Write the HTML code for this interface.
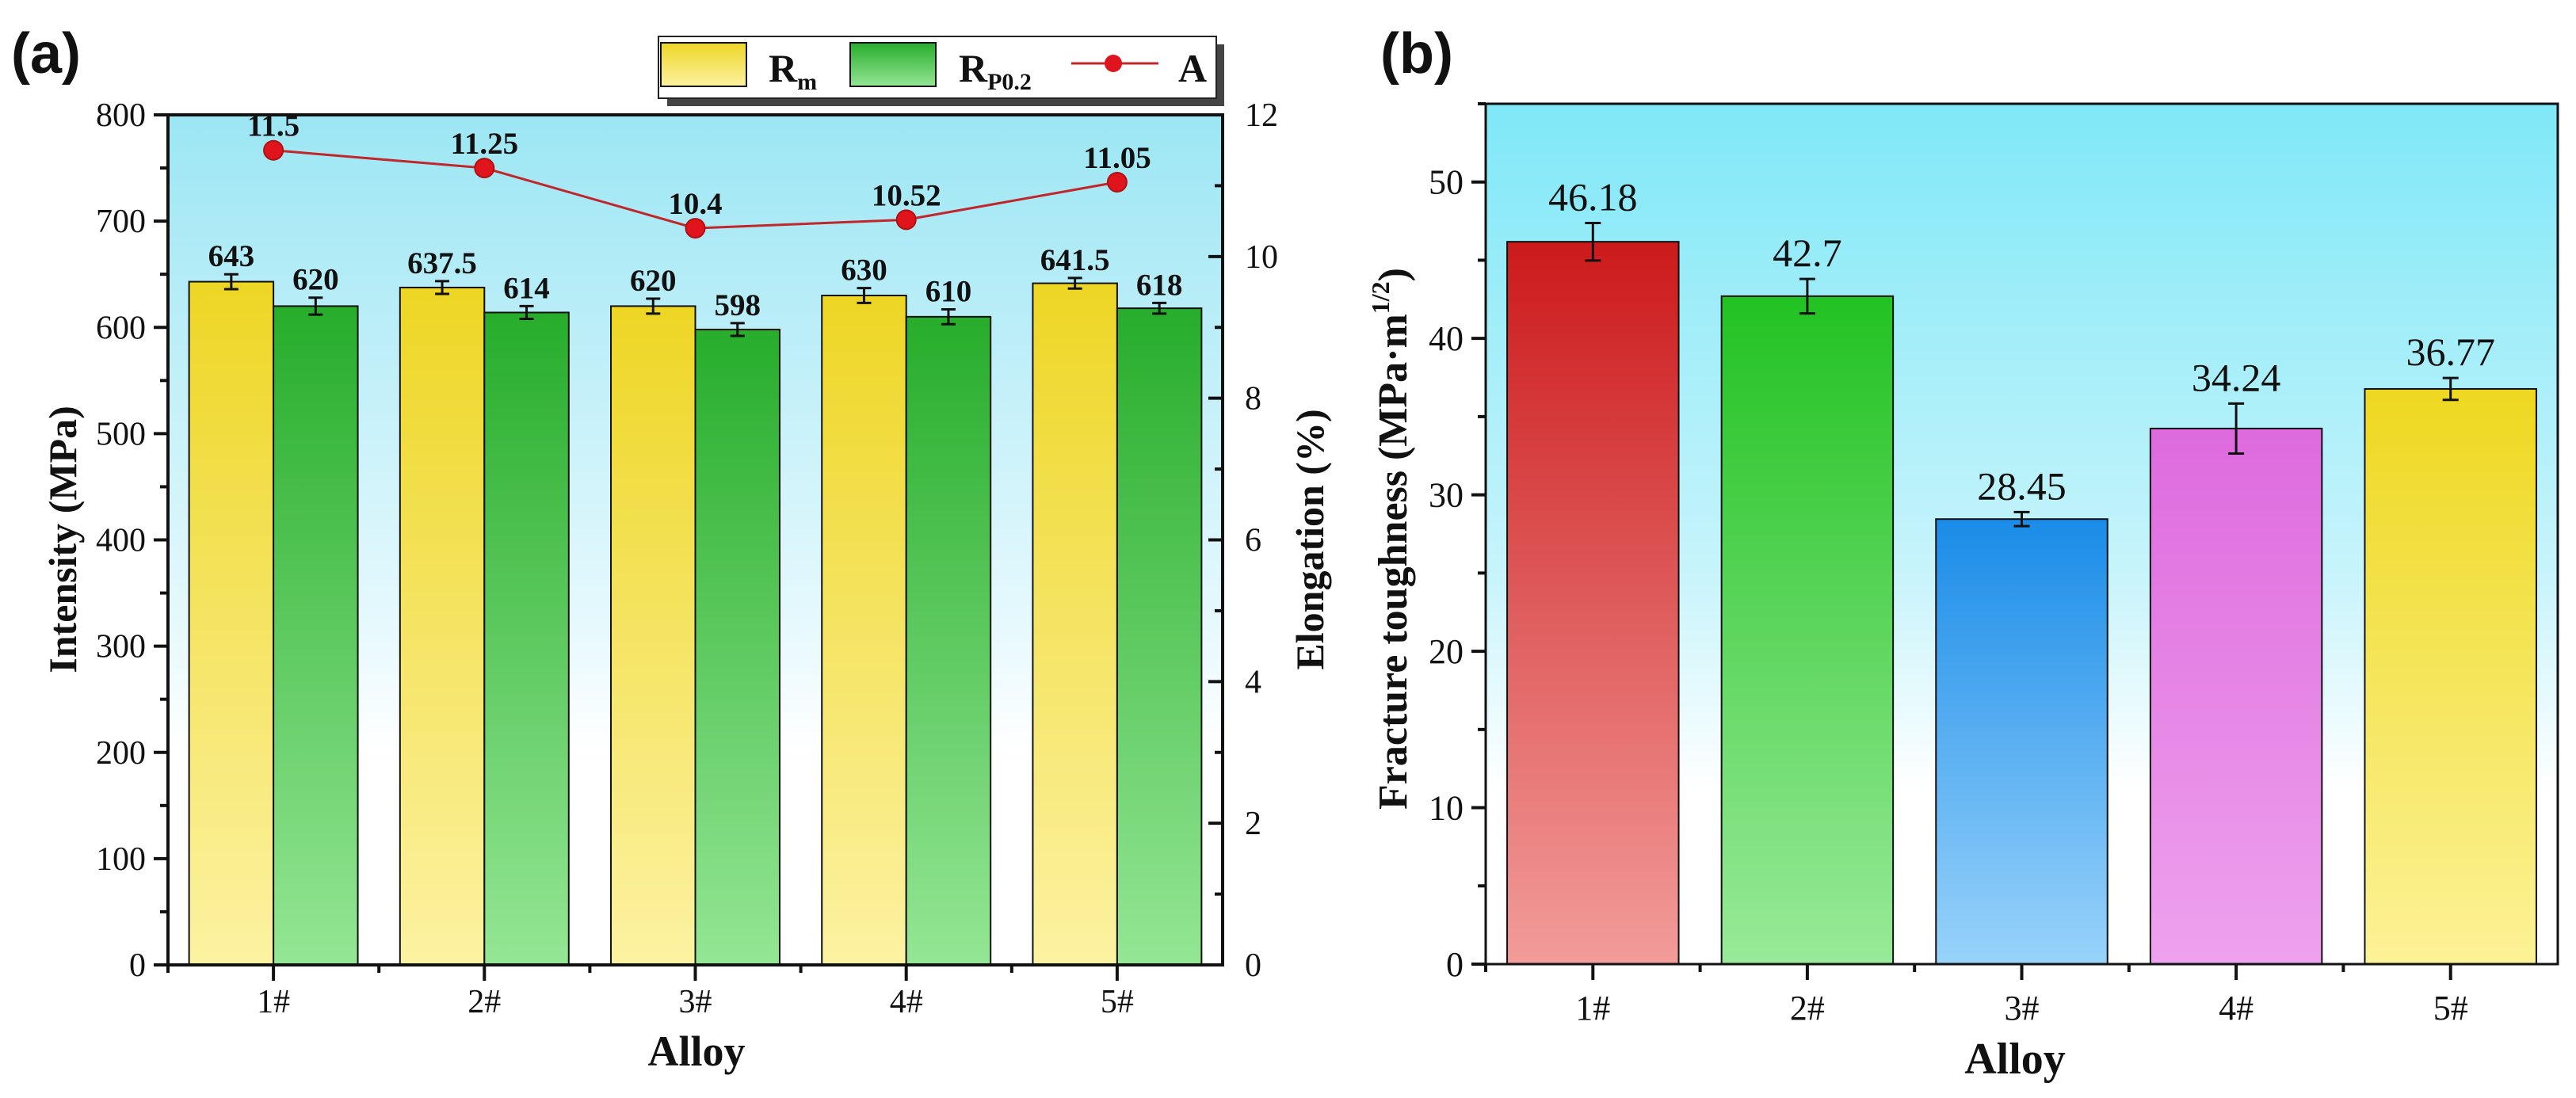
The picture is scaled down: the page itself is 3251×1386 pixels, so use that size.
<!DOCTYPE html>
<html><head><meta charset="utf-8"><style>
html,body{margin:0;padding:0;background:#fff}
svg{display:block}
text{font-family:"Liberation Serif",serif}
</style></head><body>
<svg id="c" width="3251" height="1386" xmlns="http://www.w3.org/2000/svg">
<defs>
<linearGradient id="bgA" x1="0" y1="0" x2="0" y2="1"><stop offset="0" stop-color="#9ce6f4"/><stop offset="0.6" stop-color="#e6f9fd"/><stop offset="0.75" stop-color="#ffffff"/></linearGradient>
<linearGradient id="bgB" x1="0" y1="0" x2="0" y2="1"><stop offset="0" stop-color="#7fe8f7"/><stop offset="0.55" stop-color="#c8f4fb"/><stop offset="0.8" stop-color="#ffffff"/></linearGradient>
<linearGradient id="gY" x1="0" y1="0" x2="0" y2="1"><stop offset="0" stop-color="#eed624"/><stop offset="1" stop-color="#fcf2a2"/></linearGradient>
<linearGradient id="gG" x1="0" y1="0" x2="0" y2="1"><stop offset="0" stop-color="#27ad2b"/><stop offset="1" stop-color="#94e694"/></linearGradient>
<linearGradient id="b0" x1="0" y1="0" x2="0" y2="1"><stop offset="0" stop-color="#cc1a1c"/><stop offset="1" stop-color="#f29c9a"/></linearGradient>
<linearGradient id="b1" x1="0" y1="0" x2="0" y2="1"><stop offset="0" stop-color="#22c222"/><stop offset="1" stop-color="#98ea98"/></linearGradient>
<linearGradient id="b2" x1="0" y1="0" x2="0" y2="1"><stop offset="0" stop-color="#1a8ce8"/><stop offset="1" stop-color="#98d2fa"/></linearGradient>
<linearGradient id="b3" x1="0" y1="0" x2="0" y2="1"><stop offset="0" stop-color="#de6ade"/><stop offset="1" stop-color="#eea2ee"/></linearGradient>
<linearGradient id="b4" x1="0" y1="0" x2="0" y2="1"><stop offset="0" stop-color="#eed820"/><stop offset="1" stop-color="#fcf296"/></linearGradient>
</defs>
<g id="pa"></g>
<g id="pb"></g>
</svg>
<script>
const categories = ["1#","2#","3#","4#","5#"];
const rmValues = [643, 637.5, 620, 630, 641.5];
const rmErrors = [7, 6, 7, 7, 5];
const rmLabels = ["643","637.5","620","630","641.5"];
const rpValues = [620, 614, 598, 610, 618];
const rpErrors = [8, 6, 6, 7, 5];
const rpLabels = ["620","614","598","610","618"];
const elongValues = [11.5, 11.25, 10.4, 10.52, 11.05];
const elongLabels = ["11.5","11.25","10.4","10.52","11.05"];
const leftTicks = [0,100,200,300,400,500,600,700,800];
const rightTicks = [0,2,4,6,8,10,12];
const ktValues = [46.18, 42.7, 28.45, 34.24, 36.77];
const ktErrors = [1.2, 1.1, 0.45, 1.6, 0.7];
const ktLabels = ["46.18","42.7","28.45","34.24","36.77"];
const bTicks = [0,10,20,30,40,50];

const NS="http://www.w3.org/2000/svg";
function mk(parent,tag,attrs,txt){const e=document.createElementNS(NS,tag);for(const k in attrs)e.setAttribute(k,attrs[k]);if(txt!==undefined)e.textContent=txt;parent.appendChild(e);return e;}

// ---------- Panel A ----------
const pa=document.getElementById('pa');
const A={l:212,r:1543,t:145,b:1218};
const ya=v=>A.b-(v/800)*(A.b-A.t);
const yr=v=>A.b-(v/12)*(A.b-A.t);
const bwA=(A.r-A.l)/categories.length;
const xa=i=>A.l+bwA*(i+0.5);
let e=mk(pa,'rect',{x:A.l,y:A.t,width:A.r-A.l,height:A.b-A.t,fill:'url(#bgA)'});


const half=bwA*0.4;
categories.forEach((c,i)=>{
  const cx=xa(i);
  let r=mk(pa,'rect',{x:cx-half,y:ya(rmValues[i]),width:half,height:A.b-ya(rmValues[i]),fill:'url(#gY)',stroke:'#111','stroke-width':2});
  
  
  r=mk(pa,'rect',{x:cx,y:ya(rpValues[i]),width:half,height:A.b-ya(rpValues[i]),fill:'url(#gG)',stroke:'#111','stroke-width':2});
  
  
  [[cx-half/2,rmValues[i],rmErrors[i],rmLabels[i]],[cx+half/2,rpValues[i],rpErrors[i],rpLabels[i]]].forEach(([x,v,er,lb],k)=>{
    const g=mk(pa,'g',{stroke:'#111','stroke-width':3});
    
    
    mk(g,'line',{x1:x,x2:x,y1:ya(v+er),y2:ya(v-er)});
    mk(g,'line',{x1:x-9,x2:x+9,y1:ya(v+er),y2:ya(v+er)});
    mk(g,'line',{x1:x-9,x2:x+9,y1:ya(v-er),y2:ya(v-er)});
    const t=mk(pa,'text',{x:x,y:ya(v+er)-10,'text-anchor':'middle','font-size':39,'font-weight':'bold',fill:'#111'},lb);
    
    
  });
});
let pts=elongValues.map((v,i)=>xa(i)+','+yr(v)).join(' ');
e=mk(pa,'polyline',{points:pts,fill:'none',stroke:'#c0262a','stroke-width':3});


elongValues.forEach((v,i)=>{
  const d=mk(pa,'circle',{cx:xa(i),cy:yr(v),r:12,fill:'#e0141c',stroke:'#b01010','stroke-width':2});
  
  
  const t=mk(pa,'text',{x:xa(i),y:yr(v)-18,'text-anchor':'middle','font-size':39,'font-weight':'bold',fill:'#111'},elongLabels[i]);
  
  
});
e=mk(pa,'rect',{x:A.l,y:A.t,width:A.r-A.l,height:A.b-A.t,fill:'none',stroke:'#111','stroke-width':4});


leftTicks.forEach(v=>{
  mk(pa,'line',{x1:A.l-18,x2:A.l,y1:ya(v),y2:ya(v),stroke:'#111','stroke-width':4});
  if(v<800) mk(pa,'line',{x1:A.l-10,x2:A.l,y1:ya(v+50),y2:ya(v+50),stroke:'#111','stroke-width':4});
  const t=mk(pa,'text',{x:A.l-28,y:ya(v)+14,'text-anchor':'end','font-size':42,fill:'#111'},String(v));
  
  
});
rightTicks.forEach(v=>{
  mk(pa,'line',{x1:A.r-18,x2:A.r,y1:yr(v),y2:yr(v),stroke:'#111','stroke-width':4});
  if(v<12) mk(pa,'line',{x1:A.r-10,x2:A.r,y1:yr(v+1),y2:yr(v+1),stroke:'#111','stroke-width':4});
  const t=mk(pa,'text',{x:A.r+28,y:yr(v)+14,'text-anchor':'start','font-size':42,fill:'#111'},String(v));
  
  
});
categories.forEach((c,i)=>{
  mk(pa,'line',{x1:xa(i),x2:xa(i),y1:A.b,y2:A.b+20,stroke:'#111','stroke-width':4});
  mk(pa,'line',{x1:A.l+bwA*i,x2:A.l+bwA*i,y1:A.b,y2:A.b+10,stroke:'#111','stroke-width':4});
  const t=mk(pa,'text',{x:xa(i),y:A.b+60,'text-anchor':'middle','font-size':42,fill:'#111'},c);
  
  
});
e=mk(pa,'text',{x:879,y:1345,'text-anchor':'middle','font-size':54,'font-weight':'bold',fill:'#111'},'Alloy');


e=mk(pa,'text',{x:0,y:0,transform:'translate(96,681) rotate(-90)','text-anchor':'middle','font-size':50,'font-weight':'bold',fill:'#111'},'Intensity (MPa)');


e=mk(pa,'text',{x:0,y:0,transform:'translate(1670,681) rotate(-90)','text-anchor':'middle','font-size':50,'font-weight':'bold',fill:'#111'},'Elongation (%)');


e=mk(pa,'text',{x:14,y:92,'font-size':72,'font-weight':'bold',style:'font-family:"Liberation Sans",sans-serif',fill:'#111'},'(a)');


const lg=mk(pa,'g',{});


mk(lg,'rect',{x:842,y:56,width:703,height:78,fill:'#444'});
mk(lg,'rect',{x:831,y:46,width:704,height:78,fill:'#fff',stroke:'#222','stroke-width':2});
e=mk(lg,'rect',{x:834,y:54,width:108,height:55,fill:'url(#gY)',stroke:'#111','stroke-width':2});


e=mk(lg,'text',{x:970,y:103,'font-size':50,'font-weight':'bold',fill:'#111'});
e.innerHTML='R<tspan font-size="30" dy="10">m</tspan>';


e=mk(lg,'rect',{x:1073,y:54,width:108,height:55,fill:'url(#gG)',stroke:'#111','stroke-width':2});


e=mk(lg,'text',{x:1210,y:103,'font-size':50,'font-weight':'bold',fill:'#111'});
e.innerHTML='R<tspan font-size="30" dy="10">P0.2</tspan>';


mk(lg,'line',{x1:1352,x2:1462,y1:80,y2:80,stroke:'#c0262a','stroke-width':3});
e=mk(lg,'circle',{cx:1405,cy:80,r:11,fill:'#e0141c'});


e=mk(lg,'text',{x:1487,y:103,'font-size':50,'font-weight':'bold',fill:'#111'},'A');



// ---------- Panel B ----------
const pb=document.getElementById('pb');
const B={l:1875,r:3228,t:131,b:1217};
const yb=v=>B.b-(v/55)*(B.b-B.t);
const bwB=(B.r-B.l)/categories.length;
const xb=i=>B.l+bwB*(i+0.5);
e=mk(pb,'rect',{x:B.l,y:B.t,width:B.r-B.l,height:B.b-B.t,fill:'url(#bgB)'});


categories.forEach((c,i)=>{
  const w=bwB*0.8, v=ktValues[i], er=ktErrors[i], x=xb(i);
  const r=mk(pb,'rect',{x:x-w/2,y:yb(v),width:w,height:B.b-yb(v),fill:'url(#b'+i+')',stroke:'#111','stroke-width':2});
  
  
  const g=mk(pb,'g',{stroke:'#111','stroke-width':3});
  
  
  mk(g,'line',{x1:x,x2:x,y1:yb(v+er),y2:yb(v-er)});
  mk(g,'line',{x1:x-10,x2:x+10,y1:yb(v+er),y2:yb(v+er)});
  mk(g,'line',{x1:x-10,x2:x+10,y1:yb(v-er),y2:yb(v-er)});
  const t=mk(pb,'text',{x:x,y:yb(v+er)-16,'text-anchor':'middle','font-size':50,fill:'#111'},ktLabels[i]);
  
  
});
e=mk(pb,'rect',{x:B.l,y:B.t,width:B.r-B.l,height:B.b-B.t,fill:'none',stroke:'#111','stroke-width':3});


bTicks.forEach(v=>{
  mk(pb,'line',{x1:B.l-18,x2:B.l,y1:yb(v),y2:yb(v),stroke:'#111','stroke-width':4});
  mk(pb,'line',{x1:B.l-10,x2:B.l,y1:yb(v+5),y2:yb(v+5),stroke:'#111','stroke-width':4});
  const t=mk(pb,'text',{x:B.l-28,y:yb(v)+15,'text-anchor':'end','font-size':44,fill:'#111'},String(v));
  
  
});
categories.forEach((c,i)=>{
  mk(pb,'line',{x1:xb(i),x2:xb(i),y1:B.b,y2:B.b+20,stroke:'#111','stroke-width':4});
  mk(pb,'line',{x1:B.l+bwB*i,x2:B.l+bwB*i,y1:B.b,y2:B.b+10,stroke:'#111','stroke-width':4});
  const t=mk(pb,'text',{x:xb(i),y:B.b+70,'text-anchor':'middle','font-size':44,fill:'#111'},c);
  
  
});
e=mk(pb,'text',{x:2543,y:1355,'text-anchor':'middle','font-size':56,'font-weight':'bold',fill:'#111'},'Alloy');


e=mk(pb,'text',{x:0,y:0,transform:'translate(1775,680) rotate(-90)','text-anchor':'middle','font-size':52,'font-weight':'bold',fill:'#111'});
e.innerHTML='Fracture toughness (MPa·m<tspan font-size="32" dy="-22">1/2</tspan><tspan dy="22">)</tspan>';


e=mk(pb,'text',{x:1742,y:92,'font-size':72,'font-weight':'bold',style:'font-family:"Liberation Sans",sans-serif',fill:'#111'},'(b)');


</script>
</body></html>
